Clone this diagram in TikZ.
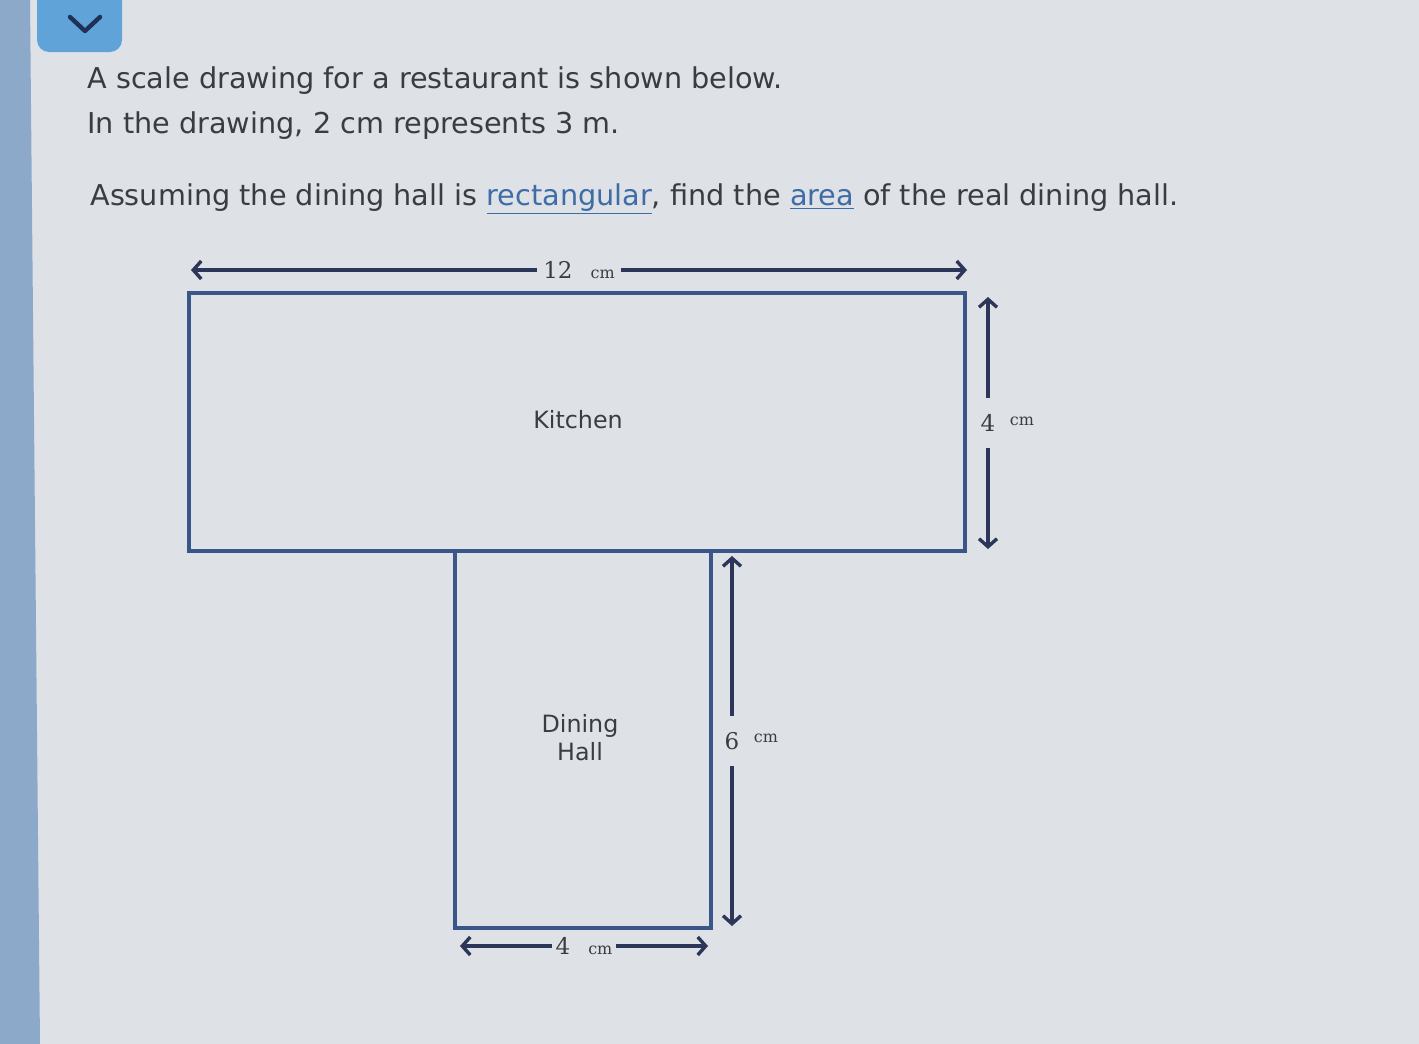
\documentclass[tikz,border=0pt]{standalone}
\usepackage{fontspec}
\setmainfont{DejaVu Sans}
\newfontfamily\dimfont{DejaVu Serif}
\usetikzlibrary{arrows.meta}
\definecolor{bg}{HTML}{DEE2E7}
\definecolor{strip}{HTML}{8DA9C9}
\definecolor{btn}{HTML}{5FA3D9}
\definecolor{navy}{HTML}{1F3158}
\definecolor{txt}{HTML}{3A3C42}
\definecolor{linkblue}{HTML}{3F6BA6}
\definecolor{wall}{HTML}{3A5588}
\definecolor{arr}{HTML}{2C3658}
\tikzset{
  x=0.5pt, y=-0.5pt,
  qtext/.style={anchor=base west, inner sep=0pt, text=txt, font=\fontsize{14.35}{17}\selectfont},
  room/.style={draw=wall, line width=1.6pt, fill=bg},
  roomlbl/.style={text=txt, font=\fontsize{11.9}{14}\selectfont, align=center, inner sep=0pt},
  dimarrow/.style={draw=arr, line width=1.7pt, {Straight Barb[length=4pt,width=9pt]}-{Straight Barb[length=4pt,width=9pt]}},
  dimlbl/.style={fill=bg, text=txt, inner sep=3pt, font=\dimfont\fontsize{11.5}{13}\selectfont},
  cmlbl/.style={text=txt, inner sep=0pt, font=\dimfont\fontsize{8}{10}\selectfont},
}
\begin{document}
\begin{tikzpicture}
\useasboundingbox (0,0) rectangle (1419,1044);
\fill[bg] (0,0) rectangle (1419,1044);
\fill[strip] (0,0) -- (30,0) -- (40,1044) -- (0,1044) -- cycle;
% chevron button
\fill[btn, rounded corners=6pt] (37,-20) rectangle (122,52);
\draw[navy, line width=2.2pt, line cap=round, line join=round] (70,17) -- (85,31) -- (100,17);
% question text
\node[qtext] (q1) at (87,88) {A scale drawing for a restaurant is shown below.};
\node[qtext] (q2) at (87,133) {In the drawing, 2 cm represents 3 m.};
\node[qtext] (q3) at (90,205) {Assuming the dining hall is {\color{linkblue}\underline{rectangular}}, find the {\color{linkblue}\underline{area}} of the real dining hall.};
% rooms
\draw[room] (189,293) rectangle (965,551);
\draw[room] (455,551) rectangle (711,928);
\node[roomlbl] (kitchen) at (578,420) {Kitchen};
\node[roomlbl] (dining) at (580,738) {Dining\\Hall};
% dimension arrows
\coordinate (t1) at (191,270);
\coordinate (t2) at (967,270);
\draw[dimarrow] (t1) -- node[dimlbl] (l12) {12\hspace{9pt}\fontsize{8}{10}\selectfont cm} (t2);
\coordinate (r1) at (988,297);
\coordinate (r2) at (988,549);
\draw[dimarrow] (r1) -- node[dimlbl, inner ysep=8pt] (l4) {4} (r2);
\node[cmlbl] (cm4) at (1022,421) {cm};
\coordinate (d1) at (732,556);
\coordinate (d2) at (732,926);
\draw[dimarrow] (d1) -- node[dimlbl, inner ysep=8pt] (l6) {6} (d2);
\node[cmlbl] (cm6) at (766,738) {cm};
\coordinate (b1) at (460,946);
\coordinate (b2) at (708,946);
\draw[dimarrow] (b1) -- node[dimlbl, inner sep=2pt] (l4b) {4\hspace{9pt}\fontsize{8}{10}\selectfont cm} (b2);
\end{tikzpicture}
\end{document}
